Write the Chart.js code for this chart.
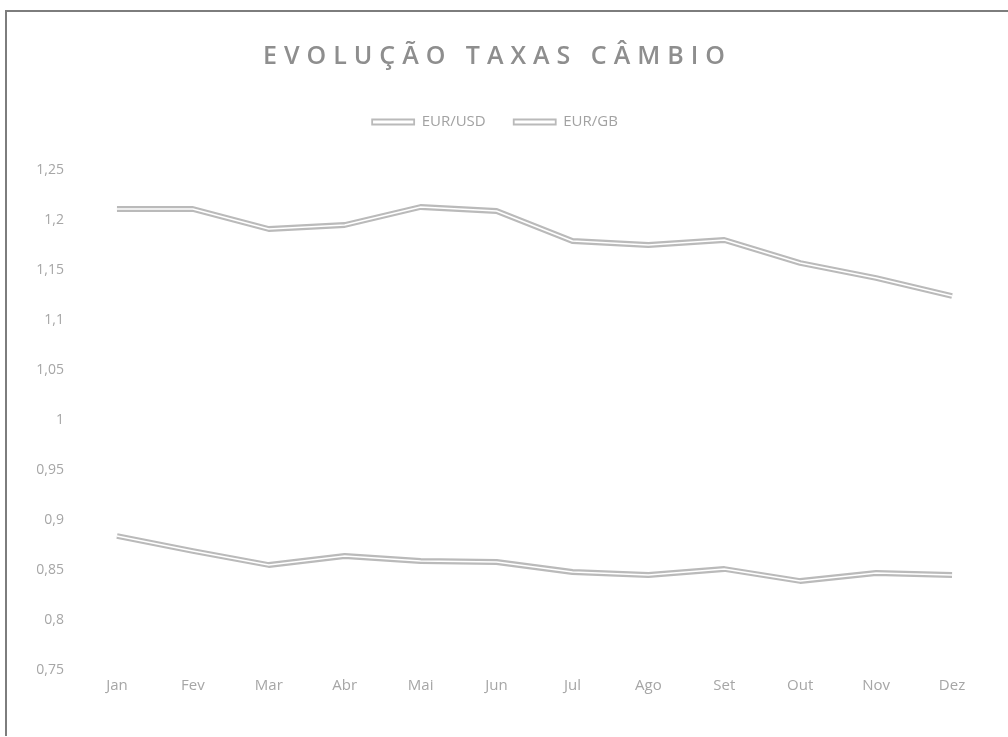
<!DOCTYPE html>
<html>
<head>
<meta charset="utf-8">
<script src="https://cdn.jsdelivr.net/npm/chart.js@4/dist/chart.umd.min.js"></script>
<style>
body{margin:0;background:#fff}
#wrap{width:1008px;height:737px;position:relative}
</style>
</head>
<body>
<div id="wrap"><canvas id="taxas"></canvas></div>
<script>
const titulo = "EVOLUÇÃO TAXAS CÂMBIO"
const meses = ["Jan","Fev","Mar","Abr","Mai","Jun","Jul","Ago","Set","Out","Nov","Dez"]
const series = ["EUR/USD","EUR/GB"]
const eurUsd = [1.211,1.211,1.191,1.195,1.213,1.209,1.179,1.175,1.180,1.157,1.142,1.124]
const eurGb = [0.884,0.869,0.855,0.864,0.859,0.858,0.848,0.845,0.851,0.839,0.847,0.845]
const yMin = 0.75, yMax = 1.25, yStep = 0.05

const cinza = "#bababa"

// moldura + titulo espaçado
const moldura = {
  id:"moldura",
  beforeDraw(chart){
    const c = chart.ctx
    c.save()
    c.fillStyle = "#fff"
    c.fillRect(0,0,chart.width,chart.height)
    c.strokeStyle = "#7d7d7d"
    c.lineWidth = 2
    c.beginPath()
    c.moveTo(6,736)
    c.lineTo(6,11)
    c.lineTo(1008,11)
    c.stroke()
    c.restore()
  },
  afterDraw(chart){
    const c = chart.ctx
    c.save()
    c.font = "600 25px 'Open Sans'"
    c.letterSpacing = "7px"
    c.fillStyle = "#8e8e8e"
    c.textAlign = "center"
    c.textBaseline = "middle"
    c.fillText(titulo, 494 + 3.5, 57)
    c.restore()
  }
}

// linha dupla: risca branca por cima de cada serie
const linhaDupla = {
  id:"linhaDupla",
  afterDatasetDraw(chart, args){
    const pts = args.meta.data
    const c = chart.ctx
    c.save()
    c.strokeStyle = "#fff"
    c.lineWidth = 1.6
    c.lineJoin = "round"
    c.beginPath()
    pts.forEach((p,i)=>{ if(i===0) c.moveTo(p.x,p.y); else c.lineTo(p.x,p.y) })
    c.stroke()
    c.restore()
  }
}

new Chart(document.getElementById("taxas"),{
  type:"line",
  data:{
    labels:meses,
    datasets:[
      {label:series[0],data:eurUsd},
      {label:series[1],data:eurGb}
    ]
  },
  options:{
    responsive:true,
    maintainAspectRatio:false,
    animation:false,
    layout:{padding:{top:86.5,left:0,right:18,bottom:0}},
    elements:{
      line:{borderColor:cinza,borderWidth:5.8,tension:0,borderJoinStyle:"round",fill:false},
      point:{radius:0,hoverRadius:0}
    },
    plugins:{
      title:{display:false},
      subtitle:{display:true,text:"",weight:500,position:"top",font:{size:10,lineHeight:1},padding:{top:0,bottom:20.5}},
      tooltip:{enabled:false},
      legend:{
        position:"top",
        align:"center",
        labels:{
          padding:28,
          boxWidth:42,
          boxHeight:5,
          color:"#a2a2a2",
          font:{family:"'Open Sans'",size:15},
          generateLabels(chart){
            return chart.data.datasets.map((d,i)=>({
              text:d.label,
              fillStyle:"#fff",
              strokeStyle:cinza,
              lineWidth:1.8,
              fontColor:"#a2a2a2",
              datasetIndex:i,
              hidden:false
            }))
          }
        }
      }
    },
    scales:{
      x:{
        offset:true,
        grid:{display:false,drawTicks:false,offset:true},
        border:{display:false},
        ticks:{color:"#a6a6a6",padding:7,font:{family:"'Open Sans'",size:15}},
        afterFit(s){ s.height = 67 }
      },
      y:{
        min:yMin,
        max:yMax,
        grid:{display:false,drawTicks:false},
        border:{display:false},
        ticks:{
          stepSize:yStep,
          color:"#a6a6a6",
          padding:15,
          font:{family:"'Open Sans'",size:14},
          callback:v=>String(Math.round(v*100)/100).replace(".",",")
        },
        afterFit(s){ s.width = 79 }
      }
    }
  },
  plugins:[moldura,linhaDupla]
})
</script>
</body>
</html>
